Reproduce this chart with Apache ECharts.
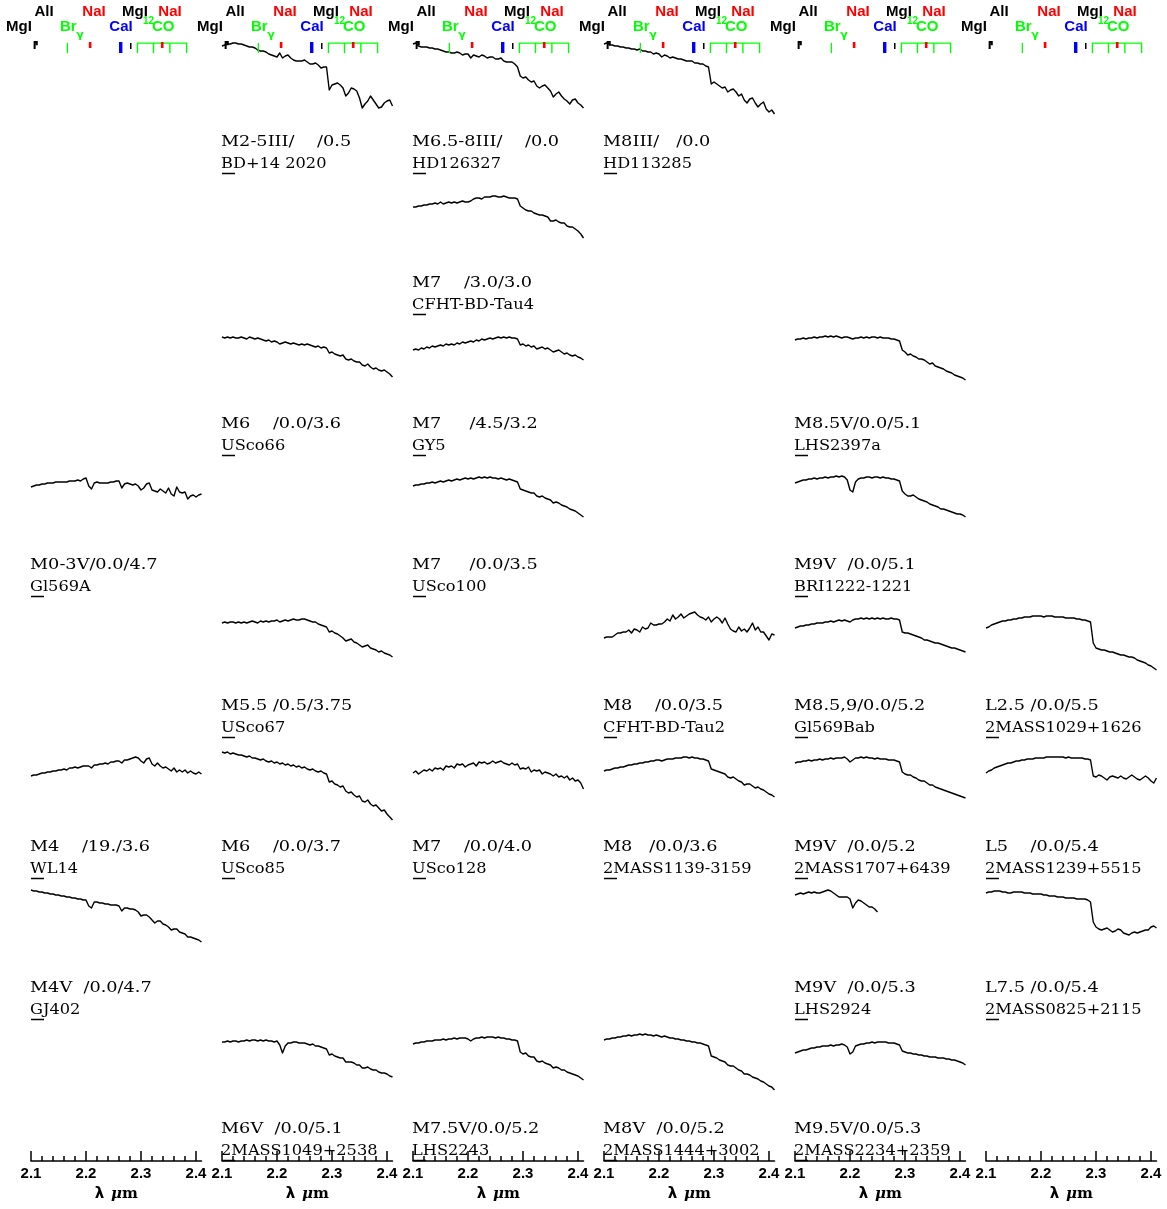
<!DOCTYPE html>
<html>
<head>
<meta charset="utf-8">
<script src="https://cdn.jsdelivr.net/npm/echarts@6/dist/echarts.min.js"></script>
<style>
  html, body { margin: 0; padding: 0; background: #fff; }
  #c { width: 1167px; height: 1209px; }
</style>
</head>
<body>
<div id="c"></div>
<script>
// Wavelength sampling of every spectrum (micron)
const wave = [
  2.100, 2.105, 2.110, 2.115, 2.120, 2.125, 2.130, 2.135, 2.140, 2.145,
  2.150, 2.155, 2.160, 2.165, 2.170, 2.175, 2.180, 2.185, 2.190, 2.195,
  2.200, 2.205, 2.210, 2.215, 2.220, 2.225, 2.230, 2.235, 2.240, 2.245,
  2.250, 2.255, 2.260, 2.265, 2.270, 2.275, 2.280, 2.285, 2.290, 2.295,
  2.300, 2.305, 2.310, 2.315, 2.320, 2.325, 2.330, 2.335, 2.340, 2.345,
  2.350, 2.355, 2.360, 2.365, 2.370, 2.375, 2.380, 2.385, 2.390, 2.395,
  2.400, 2.405, 2.410
];

// Relative flux (percent of each spectrum's peak)
const fGl569A   = [91,92,93,93,94,94,95,95,95,96, 96,96,96,96,97,97,97,98,97,99, 100,92,89,95,96,95,95,95,95,96, 96,97,97,90,94,95,94,93,94,92, 88,90,94,95,88,87,86,89,87,85, 90,84,82,91,86,85,86,79,82,83, 81,83,84];
const fWL14     = [81,82,82,83,84,84,85,85,86,86, 87,87,88,87,89,89,90,89,90,91, 91,91,89,92,92,93,93,94,93,95, 95,96,96,94,97,97,98,99,100,99, 96,94,98,99,93,91,94,91,89,90, 88,86,89,85,87,85,87,84,86,84, 83,85,83];
const fGJ402    = [100,99,99,98,98,97,97,96,96,95, 95,94,94,93,93,92,92,91,91,90, 90,84,82,88,88,87,87,86,86,85, 85,85,84,79,82,82,81,81,80,78, 74,75,75,73,70,67,69,69,66,65, 63,60,61,61,58,57,56,53,53,52, 51,50,48];
const fBD14     = [96,97,98,98,99,99,98,98,97,96, 95,95,94,92,91,91,90,88,87,86, 85,89,84,86,87,84,82,81,81,81, 82,80,78,78,79,77,74,75,75,52, 57,58,59,57,54,46,49,54,53,51, 44,34,38,41,46,42,38,34,35,39, 41,42,36];
const fUSco66   = [100,99,100,99,100,99,99,100,99,98, 100,99,98,99,98,97,96,97,95,96, 95,93,94,95,94,93,94,93,92,93, 92,93,92,91,90,91,89,90,89,84, 85,83,82,81,82,78,77,78,76,75, 75,72,71,73,70,68,69,67,66,67, 65,63,60];
const fUSco67   = [96,97,96,97,97,96,97,96,97,96, 97,98,97,96,98,97,98,97,98,98, 99,97,98,99,98,99,100,99,99,100, 100,99,98,97,97,95,94,93,92,87, 88,86,85,83,81,78,79,80,77,76, 74,72,73,74,71,70,69,67,68,66, 65,64,62];
const fUSco85   = [100,99,100,98,99,98,97,97,96,95, 96,94,94,93,92,93,91,90,91,89, 90,88,89,87,88,86,87,85,86,84, 85,83,82,83,81,80,81,79,78,70, 71,68,67,65,66,61,59,60,57,55, 56,51,50,52,48,46,47,44,41,42, 38,35,32];
const f2M1049   = [98,98,99,98,99,99,98,99,99,100, 99,100,100,99,100,99,100,99,99,98, 99,95,87,94,97,97,98,98,97,97, 97,96,95,96,94,94,93,92,91,85, 86,84,83,82,82,78,78,78,77,75, 75,72,72,73,71,70,70,68,67,67, 66,64,63];
const fHD126327 = [99,100,97,96,96,96,95,95,94,94, 93,92,91,91,90,90,91,90,88,89, 89,85,88,87,86,88,87,85,86,86, 84,84,85,82,81,81,81,79,76,67, 65,66,63,61,62,57,55,57,58,55, 52,46,49,51,47,44,42,39,43,44, 40,38,35];
const fTau4     = [89,89,90,90,91,91,92,92,93,92, 94,92,93,94,93,94,93,94,95,94, 94,95,97,98,98,97,99,99,99,100, 100,99,99,100,99,98,98,98,97,90, 88,86,85,85,83,82,81,81,80,79, 75,75,76,74,73,73,70,69,69,67, 65,62,58];
const fGY5      = [87,88,87,89,88,90,89,91,90,91, 92,91,93,92,93,92,94,93,95,94, 95,96,95,97,96,98,97,98,99,98, 99,100,99,100,99,100,99,99,98,92, 93,91,92,90,91,88,89,90,88,89, 87,85,86,87,85,83,84,82,81,82, 80,79,77];
const fUSco100  = [91,92,92,93,93,94,94,95,94,95, 96,95,96,97,96,97,98,97,98,99, 98,99,98,99,100,99,100,99,100,99, 99,98,99,98,97,98,97,96,95,88, 87,86,85,84,84,81,80,81,79,78, 77,74,75,74,72,71,70,68,67,66, 64,62,60];
const fUSco128  = [88,90,87,89,91,90,92,90,93,92, 93,91,95,94,95,93,97,96,97,94, 96,97,98,95,99,98,99,97,98,100, 98,99,100,98,97,96,98,96,97,92, 93,92,94,89,91,90,91,87,89,88, 87,85,87,84,85,83,85,81,83,80, 81,78,72];
const fLHS2243  = [93,94,94,95,95,96,96,96,97,97, 97,98,97,98,98,99,98,99,99,99, 98,96,98,99,99,100,99,100,100,100, 99,100,99,99,98,98,97,97,96,85, 83,84,81,80,80,76,75,76,74,73, 72,69,70,69,67,67,65,64,63,62, 61,59,57];
const fHD113285 = [99,100,98,98,97,97,96,96,95,95, 94,94,93,94,92,92,91,91,89,90, 89,86,88,87,85,86,85,84,84,83, 82,82,82,80,80,79,79,77,76,59, 61,59,57,55,56,51,53,54,51,47, 49,43,40,44,45,40,36,39,41,34, 31,33,29];
const fTau2     = [74,75,75,75,77,79,79,80,80,82, 79,83,82,80,85,83,84,89,87,87, 88,88,90,93,91,97,93,95,98,94, 96,98,99,100,97,95,94,92,95,90, 93,95,93,89,94,88,83,81,80,85, 81,83,80,84,89,82,85,80,80,76, 72,78,77];
const f2M1139   = [86,87,87,88,89,89,90,90,91,92, 92,93,93,94,94,95,95,96,96,97, 97,96,97,98,98,98,99,99,99,100, 100,99,100,99,99,98,98,97,96,88, 87,86,85,84,83,80,79,80,78,76, 75,72,73,73,71,69,70,68,67,65, 63,62,60];
const f2M1444   = [94,95,95,96,96,97,97,98,98,99, 98,99,99,100,99,100,99,99,98,99, 98,97,98,97,96,96,95,95,94,94, 93,93,92,92,91,91,90,89,88,78, 77,76,74,73,72,69,68,68,66,64, 63,60,60,59,57,56,55,53,52,50, 48,47,44];
const fLHS2397a = [96,97,97,98,97,98,98,99,98,99, 99,100,99,100,99,100,99,98,99,99, 98,97,98,98,99,98,99,98,99,99, 98,99,98,98,98,97,97,96,95,86, 84,81,82,80,79,77,77,76,74,72, 73,70,69,68,67,65,64,63,61,60, 59,58,56];
const fBRI1222  = [93,94,95,96,96,97,97,98,97,98, 98,99,98,99,99,100,99,100,99,96, 86,84,94,97,98,98,99,99,98,99, 99,98,99,98,98,97,97,96,95,85, 82,80,80,81,79,77,76,75,74,72, 71,70,69,67,67,66,65,64,63,62, 62,61,59];
const fGl569Bab = [90,91,92,92,93,93,94,94,95,95, 95,96,96,97,96,97,98,97,98,97, 96,98,99,99,100,99,100,99,100,99, 100,99,100,99,99,100,99,99,98,86, 85,85,84,83,82,81,80,78,78,77, 76,75,75,74,73,72,71,70,70,69, 68,67,66];
const f2M1707   = [94,95,95,96,96,97,96,97,97,98, 97,98,98,99,98,99,99,99,100,98, 95,97,99,99,100,99,100,99,99,98, 99,98,98,98,97,97,97,96,95,85, 83,82,82,80,79,77,76,76,74,72, 72,70,69,68,67,66,65,64,63,62, 61,60,59];
const fLHS2924  = [95,96,97,96,97,98,97,98,97,97, 98,99,100,99,97,95,93,93,93,93, 91,82,87,90,89,87,85,83,83,81, 78];
const f2M2234   = [89,90,91,92,92,93,94,94,95,95, 96,96,96,97,96,97,97,98,97,95, 88,90,96,97,98,98,99,99,100,99, 100,100,100,100,99,99,99,98,97,91, 90,89,89,88,88,87,87,86,86,85, 85,85,84,84,84,83,83,82,82,81, 80,79,77];
const f2M1029   = [88,89,91,92,93,94,95,95,96,96, 97,97,98,98,99,99,99,100,100,100, 100,99,100,100,100,99,99,99,99,98, 98,98,98,97,97,96,96,95,94,73, 68,67,66,66,65,64,64,63,62,61, 61,60,59,59,58,56,55,54,53,51, 50,48,46];
const f2M1239   = [84,86,87,89,90,91,92,93,94,94, 95,96,96,97,97,98,98,98,99,99, 99,99,100,100,100,100,100,100,100,99, 100,99,99,99,99,99,98,98,97,81, 80,82,81,79,77,80,81,80,79,81, 79,78,80,82,80,78,77,79,81,79, 76,74,79];
const f2M0825   = [98,99,99,100,100,100,99,99,98,98, 99,99,99,99,98,98,98,97,97,97, 97,96,96,95,95,95,94,94,94,93, 93,93,93,92,92,92,92,91,89,69, 64,62,61,62,63,61,59,60,62,61, 58,57,56,58,59,58,59,60,61,61, 64,65,63];

// Object names, spectral type / Av / log g, panel column, panel row and vertical offset
const objectNames = ['Gl569A','WL14','GJ402','BD+14 2020','USco66','USco67','USco85','2MASS1049+2538',
  'HD126327','CFHT-BD-Tau4','GY5','USco100','USco128','LHS2243','HD113285','CFHT-BD-Tau2',
  '2MASS1139-3159','2MASS1444+3002','LHS2397a','BRI1222-1221','Gl569Bab','2MASS1707+6439','LHS2924',
  '2MASS2234+2359','2MASS1029+1626','2MASS1239+5515','2MASS0825+2115'];
const typeLabels = ['M0-3V/0.0/4.7','M4    /19./3.6','M4V  /0.0/4.7','M2-5III/    /0.5','M6    /0.0/3.6',
  'M5.5 /0.5/3.75','M6    /0.0/3.7','M6V  /0.0/5.1','M6.5-8III/    /0.0','M7    /3.0/3.0','M7     /4.5/3.2',
  'M7     /0.0/3.5','M7    /0.0/4.0','M7.5V/0.0/5.2','M8III/   /0.0','M8    /0.0/3.5','M8   /0.0/3.6',
  'M8V  /0.0/5.2','M8.5V/0.0/5.1','M9V  /0.0/5.1','M8.5,9/0.0/5.2','M9V  /0.0/5.2','M9V  /0.0/5.3',
  'M9.5V/0.0/5.3','L2.5 /0.0/5.5','L5    /0.0/5.4','L7.5 /0.0/5.4'];
const fluxList = [fGl569A,fWL14,fGJ402,fBD14,fUSco66,fUSco67,fUSco85,f2M1049,fHD126327,fTau4,fGY5,
  fUSco100,fUSco128,fLHS2243,fHD113285,fTau2,f2M1139,f2M1444,fLHS2397a,fBRI1222,fGl569Bab,f2M1707,
  fLHS2924,f2M2234,f2M1029,f2M1239,f2M0825];
const panelColumn = [0,0,0,1,1,1,1,1,2,2,2,2,2,2,3,3,3,3,4,4,4,4,4,4,5,5,5];
const panelRow    = [3,5,6,0,2,4,5,7,0,1,2,3,5,7,0,4,5,7,2,3,4,5,6,7,4,5,6];
const offsets     = [5.83,3.04,1.71,10.19,7.24,4.42,3.09,0.21,10.18,8.65,7.24,5.84,3.00,0.24,10.18,4.49,
  3.04,0.27,7.25,5.85,4.43,3.04,1.71,0.19,4.45,3.04,1.70];

// Line identifications (micron)
const lineMgI1 = 2.1066, lineAlI = 2.1105, lineBrG = 2.1661, lineNaI1 = 2.2075, lineCaI = 2.2631,
      lineMgI2 = 2.2814, lineNaI2 = 2.3386;
const coBandheads = [2.2935, 2.3227, 2.3525, 2.3829];
const idLabelText  = ['AlI', 'NaI', 'MgI', 'NaI', 'MgI', 'CaI'];
const idLabelWave  = [2.1236, 2.2145, 2.2891, 2.3527, 2.0782, 2.2636];
const idLabelRow   = [0, 0, 0, 0, 1, 1];
const idLabelColor = ['#000', '#f00', '#000', '#f00', '#000', '#00f'];

// Axis ticks
const majorTicks = [2.1, 2.2, 2.3, 2.4];
const minorTicks = [2.12, 2.14, 2.16, 2.18, 2.22, 2.24, 2.26, 2.28, 2.32, 2.34, 2.36, 2.38];

const NCOL = 6;
const colLeft = c => 31 + 191 * c;
const PANEL_W = 170.5;
const GREEN = '#00ff00', RED = '#ff0000', BLUE = '#0000ff';

const chart = echarts.init(document.getElementById('c'), null, { renderer: 'canvas' });

const grids = [], xAxes = [], yAxes = [], series = [];
const baseX = { type: 'value', min: 2.1, max: 2.41, interval: 0.1, splitLine: { show: false } };

// spectra panels with the wavelength axis
for (let c = 0; c < NCOL; c++) {
  grids.push({ left: colLeft(c), width: PANEL_W, top: 11, height: 1150, outerBoundsMode: 'none', containLabel: false });
  xAxes.push(Object.assign({}, baseX, {
    gridIndex: c, position: 'bottom',
    axisLine: { show: true, onZero: false, lineStyle: { color: '#000', width: 1.5 } },
    axisTick: { show: true, inside: true, length: 10, customValues: majorTicks, lineStyle: { color: '#000', width: 1.5 } },
    minorTick: { show: false },
    axisLabel: {
      show: true, customValues: majorTicks, margin: 5, color: '#000',
      fontFamily: 'Liberation Sans', fontWeight: 'bold', fontSize: 15,
      formatter: v => (Math.abs(v * 10 - Math.round(v * 10)) < 1e-6 ? v.toFixed(1) : '')
    },
    name: '{l|λ}  {u|μ}{m|m}', nameLocation: 'middle', nameGap: 33,
    nameTextStyle: {
      verticalAlign: 'middle',
      rich: {
        l: { color: '#000', fontFamily: 'DejaVu Sans', fontWeight: 'bold', fontSize: 15 },
        u: { color: '#000', fontFamily: 'DejaVu Serif', fontStyle: 'italic', fontWeight: 'bold', fontSize: 15 },
        m: { color: '#000', fontFamily: 'DejaVu Serif', fontWeight: 'bold', fontSize: 15 }
      }
    }
  }));
  yAxes.push({ gridIndex: c, type: 'value', min: 0, max: 11.5, show: false });
}
// line-identification strip at the top of each column
for (let c = 0; c < NCOL; c++) {
  grids.push({ left: colLeft(c), width: PANEL_W, top: 42, height: 11, outerBoundsMode: 'none', containLabel: false });
  xAxes.push(Object.assign({}, baseX, { gridIndex: NCOL + c, show: false }));
  yAxes.push({ gridIndex: NCOL + c, type: 'value', min: 0, max: 1, show: false });
}
// minor ticks of the wavelength axis
for (let c = 0; c < NCOL; c++) {
  grids.push({ left: colLeft(c), width: PANEL_W, top: 1150, height: 11, outerBoundsMode: 'none', containLabel: false });
  xAxes.push(Object.assign({}, baseX, {
    gridIndex: 2 * NCOL + c, position: 'bottom',
    axisLine: { show: false },
    axisTick: { show: true, inside: true, length: 5, customValues: minorTicks, lineStyle: { color: '#000', width: 1.5 } },
    axisLabel: { show: false }
  }));
  yAxes.push({ gridIndex: 2 * NCOL + c, type: 'value', min: 0, max: 1, show: false });
}

// spectra
fluxList.forEach((flux, k) => {
  const c = panelColumn[k];
  series.push({
    type: 'line', name: objectNames[k], xAxisIndex: c, yAxisIndex: c,
    data: flux.map((f, i) => [wave[i], offsets[k] + f / 100]),
    showSymbol: false, symbol: 'none', silent: true, animation: false,
    lineStyle: { color: '#000', width: 1.4, join: 'round' }
  });
});

// line-identification marks
function mark(c, pts, color, width) {
  series.push({
    type: 'line', xAxisIndex: NCOL + c, yAxisIndex: NCOL + c, data: pts,
    showSymbol: false, symbol: 'none', silent: true, animation: false, clip: false,
    lineStyle: { color: color, width: width, cap: 'butt', join: 'miter' }
  });
}
for (let c = 0; c < NCOL; c++) {
  mark(c, [[lineMgI1, 0.36], [lineMgI1, 1], [lineAlI, 1], [lineAlI, 0.7]], '#000', 2);
  mark(c, [[lineBrG, 0], [lineBrG, 0.9]], GREEN, 1.3);
  mark(c, [[lineNaI1, 0.45], [lineNaI1, 1]], RED, 2.6);
  mark(c, [[lineCaI, 0], [lineCaI, 1]], BLUE, 3.4);
  mark(c, [[lineMgI2, 0.36], [lineMgI2, 0.9]], '#000', 1.5);
  mark(c, [[coBandheads[0], 0], [coBandheads[0], 0.9], [coBandheads[3], 0.9], [coBandheads[3], 0]], GREEN, 1.4);
  mark(c, [[coBandheads[1], 0], [coBandheads[1], 0.9]], GREEN, 1.4);
  mark(c, [[coBandheads[2], 0], [coBandheads[2], 0.9]], GREEN, 1.4);
  mark(c, [[lineNaI2, 0.45], [lineNaI2, 1]], RED, 2.6);
}

chart.setOption({
  animation: false,
  backgroundColor: '#fff',
  grid: grids, xAxis: xAxes, yAxis: yAxes, series: series
});

// text: line identifications and spectrum labels
const px = (c, w) => chart.convertToPixel({ xAxisIndex: c }, w);
const idFont = 'bold 15px "Liberation Sans"';
const labelFont = '15px "DejaVu Serif"';
const elements = [];
const rowY = [12, 26.5];
for (let c = 0; c < NCOL; c++) {
  idLabelText.forEach((t, j) => {
    elements.push({ type: 'text', x: px(c, idLabelWave[j]), y: rowY[idLabelRow[j]], silent: true,
      style: { text: t, font: idFont, fill: idLabelColor[j], align: 'center', verticalAlign: 'middle' } });
  });
  // Br gamma
  elements.push({ type: 'text', x: px(c, 2.1527), y: rowY[1], silent: true,
    style: { text: 'Br', font: idFont, fill: GREEN, align: 'left', verticalAlign: 'middle' } });
  elements.push({ type: 'text', x: px(c, 2.1891), y: 35, silent: true,
    style: { text: 'γ', font: 'bold 11px "DejaVu Sans"', fill: GREEN, align: 'center', verticalAlign: 'middle' } });
  // 12CO
  elements.push({ type: 'text', x: px(c, 2.3036), y: 21.5, silent: true,
    style: { text: '12', font: 'bold 10px "Liberation Sans"', fill: GREEN, align: 'left', verticalAlign: 'middle' } });
  elements.push({ type: 'text', x: px(c, 2.3200), y: rowY[1], silent: true,
    style: { text: 'CO', font: 'bold 15px "Liberation Sans"', fill: GREEN, align: 'left', verticalAlign: 'middle' } });
}
objectNames.forEach((nm, k) => {
  const x0 = px(panelColumn[k], 2.1) - 1;
  const y1 = 142 + 141 * panelRow[k];
  elements.push({ type: 'text', x: x0, y: y1, scaleX: 1.18, silent: true,
    style: { text: typeLabels[k], font: labelFont, fill: '#000', align: 'left', verticalAlign: 'middle' } });
  elements.push({ type: 'text', x: x0, y: y1 + 22, scaleX: 1.08, silent: true,
    style: { text: nm, font: labelFont, fill: '#000', align: 'left', verticalAlign: 'middle' } });
  elements.push({ type: 'line', silent: true,
    shape: { x1: x0 + 1, y1: y1 + 31.5, x2: x0 + 14, y2: y1 + 31.5 },
    style: { stroke: '#000', lineWidth: 1.5 } });
});
chart.setOption({ graphic: { elements: elements } });
</script>
</body>
</html>
